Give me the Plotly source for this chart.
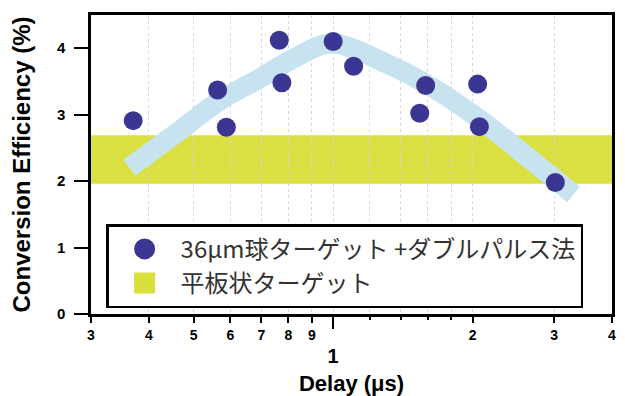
import math
import plotly.graph_objects as go

# Conversion efficiency of the double-pulse shots versus pre-pulse delay
delay_us = [0.370, 0.563, 0.588, 0.765, 0.775, 1.00, 1.107, 1.538, 1.584, 2.051, 2.069, 3.018]
efficiency = [2.91, 3.37, 2.81, 4.12, 3.48, 4.10, 3.73, 3.02, 3.44, 3.46, 2.82, 1.98]

# Hand-drawn guide through the double-pulse points
trend_delay = [0.363, 0.462, 0.563, 0.699, 0.839, 0.99, 1.312, 1.627, 2.053, 2.545, 3.303]
trend_eff = [2.20, 2.74, 3.19, 3.56, 3.88, 4.07, 3.76, 3.42, 2.95, 2.44, 1.80]

# Range reached with the flat (planar) target
flat_low = 1.96
flat_high = 2.69

# Axis ticks
x_minor_vals = [0.3, 0.4, 0.5, 0.6, 0.7, 0.8, 0.9, 2, 3, 4]
x_minor_text = ["3", "4", "5", "6", "7", "8", "9", "2", "3", "4"]
x_fine_vals = [1.2, 1.4, 1.6, 1.8]
x_major_vals = [1]
x_major_text = ["1"]
y_vals = [0, 1, 2, 3, 4]

label_sphere = "36μm球ターゲット +ダブルパルス法"
label_flat = "平板状ターゲット"

COL_DOT = "#3b3692"
COL_FLAT = "#d9df3b"
COL_TREND = "#c8e3f0"
COL_GRID = "#d6d4ec"
BOLD = "Liberation Sans"

fig = go.Figure()

# flat-target band spanning the whole delay range
fig.add_shape(type="rect", xref="x domain", x0=0, x1=1, yref="y",
              y0=flat_low, y1=flat_high, fillcolor=COL_FLAT,
              line=dict(width=0), layer="below", opacity=0.97)

fig.add_trace(go.Scatter(x=trend_delay, y=trend_eff, mode="lines",
                         line=dict(color=COL_TREND, width=20, shape="spline", smoothing=1.0),
                         showlegend=False, hoverinfo="skip"))

fig.add_trace(go.Scatter(x=delay_us, y=efficiency, mode="markers", xaxis="x2",
                         marker=dict(color=COL_DOT, size=19, line=dict(width=0)),
                         showlegend=False))

# legend entries
fig.add_trace(go.Scatter(x=[None], y=[None], mode="markers", name=label_sphere,
                         legendgroup="a",
                         marker=dict(color=COL_DOT, size=16, symbol="circle",
                                     line=dict(color=COL_DOT, width=5))))
fig.add_trace(go.Scatter(x=[None], y=[None], mode="markers", name=label_flat,
                         legendgroup="b",
                         marker=dict(color=COL_FLAT, size=16, symbol="square",
                                     line=dict(color=COL_FLAT, width=5))))

x_range = [math.log10(0.3), math.log10(4)]

fig.update_layout(
    width=625, height=396,
    margin=dict(l=91, r=13, t=15, b=82, autoexpand=False),
    paper_bgcolor="white", plot_bgcolor="white",
    font=dict(family=BOLD, color="black"),
    xaxis=dict(
        type="log", range=x_range, automargin=False,
        tickmode="array", tickvals=x_minor_vals, ticktext=x_minor_text,
        ticks="outside", ticklen=6, tickwidth=2, tickcolor="black",
        tickfont=dict(family=BOLD, size=14, weight="bold", color="black"),
        ticklabelstandoff=0,
        showgrid=True, gridcolor=COL_GRID, griddash="dot", gridwidth=1,
        minor=dict(tickmode="array", tickvals=x_fine_vals, ticks="outside",
                   ticklen=3, tickwidth=2, tickcolor="black",
                   showgrid=True, gridcolor=COL_GRID, griddash="dot", gridwidth=1),
        showline=True, linecolor="black", linewidth=2.5, mirror=True,
        zeroline=False,
        title=dict(text="Delay (μs)", font=dict(family=BOLD, size=22, weight="bold"),
                   standoff=36),
    ),
    xaxis2=dict(
        type="log", range=x_range, overlaying="x", anchor="y", side="bottom",
        automargin=False,
        tickmode="array", tickvals=x_major_vals, ticktext=x_major_text,
        ticks="outside", ticklen=14, tickwidth=2, tickcolor="black",
        tickfont=dict(family=BOLD, size=20, weight="bold", color="black"),
        ticklabelstandoff=10,
        showgrid=True, gridcolor=COL_GRID, griddash="dot", gridwidth=1,
        showline=False, zeroline=False,
    ),
    yaxis=dict(
        range=[0, 4.5], tickmode="array", tickvals=y_vals, automargin=False,
        ticks="outside", ticklen=14, tickwidth=2, tickcolor="black",
        tickfont=dict(family=BOLD, size=15, weight="bold", color="black"),
        ticklabelstandoff=6,
        showgrid=False, zeroline=False,
        showline=True, linecolor="black", linewidth=2.5, mirror=True,
        title=dict(text="Conversion Efficiency (%)",
                   font=dict(family=BOLD, size=24, weight="bold"), standoff=20),
    ),
    legend=dict(
        x=0.029, y=0.300, xanchor="left", yanchor="top",
        bgcolor="white", bordercolor="black", borderwidth=2.5,
        font=dict(family="Noto Sans CJK JP", size=24, color="#333333"),
        tracegroupgap=0, itemsizing="trace", itemwidth=62,
    ),
)

fig.write_html("out.html")
